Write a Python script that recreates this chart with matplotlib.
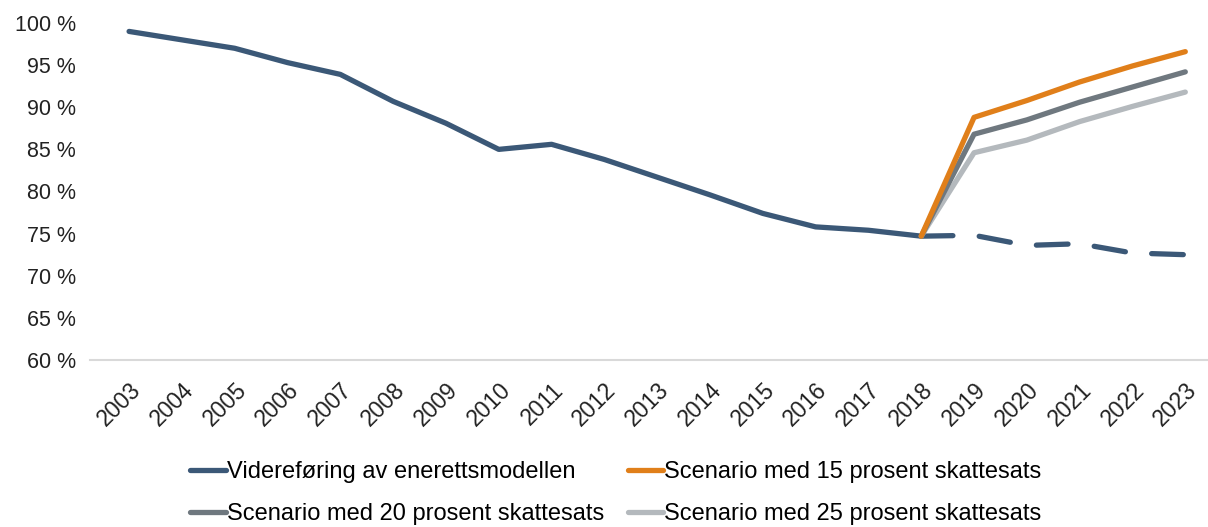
import matplotlib.pyplot as plt

plt.rcParams['font.family'] = ['Liberation Sans', 'DejaVu Sans']

years = [str(y) for y in range(2003, 2024)]

# historical + continuation of monopoly model (solid until 2018, dashed after)
hist = [99.0, 98.0, 97.0, 95.3, 93.9, 90.7, 88.1, 85.0, 85.6, 83.8,
        81.7, 79.6, 77.4, 75.8, 75.4, 74.7]
cont = [74.7, 74.8, 73.6, 73.8, 72.7, 72.5]

# scenarios 2018-2023
s15 = [74.7, 88.8, 90.8, 93.0, 94.9, 96.6]
s20 = [74.7, 86.8, 88.5, 90.6, 92.4, 94.2]
s25 = [74.7, 84.6, 86.1, 88.3, 90.1, 91.8]

yticks = [60, 65, 70, 75, 80, 85, 90, 95, 100]

c_blue = '#3B5877'
c_orange = '#E07F1A'
c_gray = '#6F787F'
c_light = '#B4B9BD'

fig = plt.figure(figsize=(12.08, 5.27), dpi=100)
ax = fig.add_axes([90 / 1208, 1 - 360 / 527, 1118 / 1208, 337 / 527])

x_hist = list(range(len(hist)))
x_fut = list(range(len(hist) - 1, len(years)))
lw = 3.8

ax.plot(x_hist, hist, color=c_blue, lw=lw, solid_capstyle='round',
        label='Videreføring av enerettsmodellen')
ax.plot(x_fut, cont, color=c_blue, lw=lw, dashes=(6, 5), dash_capstyle='round')
ax.plot(x_fut, s25, color=c_light, lw=lw, solid_capstyle='round',
        label='Scenario med 25 prosent skattesats')
ax.plot(x_fut, s20, color=c_gray, lw=lw, solid_capstyle='round',
        label='Scenario med 20 prosent skattesats')
ax.plot(x_fut, s15, color=c_orange, lw=lw, solid_capstyle='round',
        label='Scenario med 15 prosent skattesats')

ax.set_ylim(60, 100)
ax.set_xlim(-0.74, 20.43)
ax.set_yticks(yticks)
ax.set_yticklabels([f'{v} %' for v in yticks], fontsize=15.5, color='#222222')
ax.set_xticks(range(len(years)))
ax.set_xticklabels(years, rotation=45, ha='right', rotation_mode='anchor',
                   fontsize=16.5, color='#222222')
ax.tick_params(length=0)
ax.tick_params(axis='y', pad=10)
ax.tick_params(axis='x', pad=13)

for s in ['top', 'right', 'left']:
    ax.spines[s].set_visible(False)
ax.spines['bottom'].set_color('#D9D9D9')
ax.spines['bottom'].set_linewidth(1.5)

handles, labels = ax.get_legend_handles_labels()
order = [0, 2, 3, 1]
fig.legend([handles[i] for i in order], [labels[i] for i in order],
           loc='upper center', bbox_to_anchor=(0.51, 1 - 440 / 527), ncol=2,
           frameon=False, fontsize=17, handlelength=1.5, handletextpad=0.05,
           columnspacing=1.0, labelspacing=0.85)

fig.savefig('out.png', dpi=100)
